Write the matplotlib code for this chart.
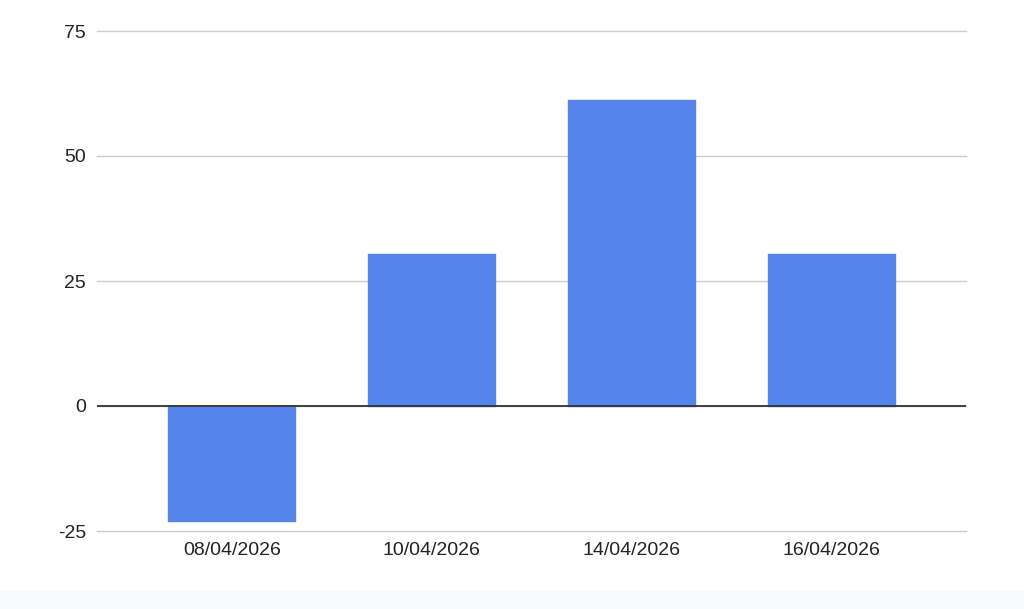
import matplotlib
matplotlib.use("Agg")
import matplotlib.pyplot as plt
from matplotlib.patches import Rectangle


DATES = ["08/04/2026", "10/04/2026", "14/04/2026", "16/04/2026"]
VALUES = [-23, 30.5, 61.3, 30.5]
Y_TICKS = [-25, 0, 25, 50, 75]

BAR_COLOR = "#5385EC"
TEXT_COLOR = "#222222"
GRID_COLOR = "#CCCCCC"

plt.rcParams["font.family"] = ["Liberation Sans", "DejaVu Sans"]
plt.rcParams["axes.unicode_minus"] = False

fig = plt.figure(figsize=(10.24, 6.09), dpi=100, facecolor="white")
fig.patches.append(Rectangle((0, 0), 1, 18 / 609, transform=fig.transFigure,
                             facecolor="#F8F9FD", edgecolor="none", zorder=0))

ax = fig.add_axes([97 / 1024, 1 - 531 / 609, (966 - 97) / 1024, 500 / 609])
ax.set_facecolor("white")

x = range(len(DATES))
ax.bar(x, VALUES, width=0.635, color=BAR_COLOR, edgecolor=BAR_COLOR,
       linewidth=1.0, joinstyle="round", zorder=3)

ax.set_xlim(-0.675, len(DATES) - 1 + 0.675)
ax.set_ylim(-25, 75)
ax.set_yticks(Y_TICKS)
ax.set_xticks(list(x), DATES)

ax.grid(axis="y", color=GRID_COLOR, linewidth=1.0, zorder=1)
ax.grid(axis="x", visible=False)
for line in ax.get_ygridlines():
    line.set_clip_on(False)
ax.axhline(0, color="#333333", linewidth=1.3, zorder=4)

ax.tick_params(axis="y", colors=TEXT_COLOR, labelsize=14, length=0, pad=8)
ax.tick_params(axis="x", colors=TEXT_COLOR, labelsize=14, length=0, pad=8)

for spine in ax.spines.values():
    spine.set_visible(False)

fig.savefig("out.png", dpi=100, facecolor="white")
